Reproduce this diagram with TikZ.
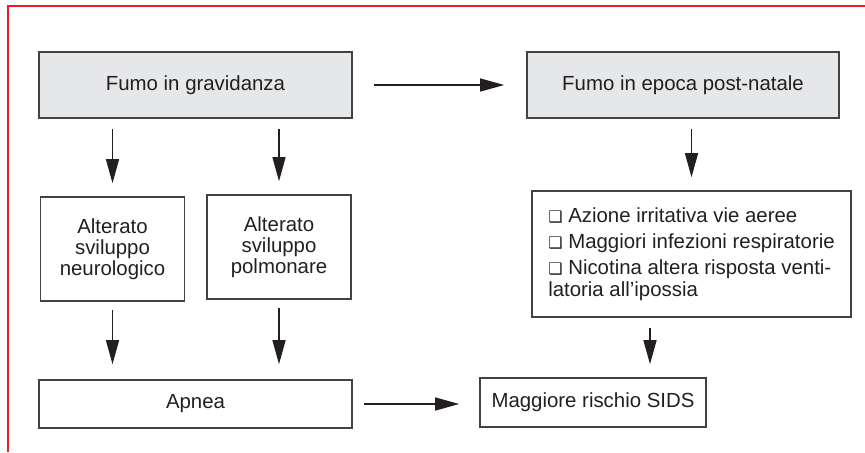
\documentclass[tikz,border=0pt]{standalone}
\usepackage{fontspec}
\setmainfont{Liberation Sans}
\newfontfamily\symfont{DejaVu Sans}
\usetikzlibrary{arrows.meta}
\definecolor{framered}{HTML}{ED1C24}
\definecolor{boxgray}{HTML}{E6E7E8}
\definecolor{ink}{HTML}{231F20}
\newcommand{\qbox}{{\symfont\fontsize{8}{8}\selectfont ❑}}
\begin{document}
\begin{tikzpicture}[x=0.5pt,y=-0.5pt,
  every node/.style={draw=ink!85,line width=0.8pt,text=ink,align=center,
    font=\fontsize{10.2}{10.6}\selectfont,inner sep=0pt},
  arr/.style={-{Triangle[length=12pt,width=6.5pt]},line width=0.6pt,draw=ink,
    shorten <=5pt,shorten >=6.5pt}]
\useasboundingbox (0,0) rectangle (865,452);
\draw[framered,line width=1pt] (8,452) -- (8,6) -- (865,6);
\node[fill=boxgray,minimum width=156.5pt,minimum height=33pt] (f0) at (195.5,85) {Fumo in gravidanza};
\node[fill=boxgray,minimum width=156pt,minimum height=33pt] (p0) at (683,85) {Fumo in epoca post-natale};
\node[minimum width=72pt,minimum height=52pt] (n0) at (112.5,249) {Alterato\\sviluppo\\neurologico};
\node[minimum width=72pt,minimum height=52pt] (m0) at (279,247) {Alterato\\sviluppo\\polmonare};
\node[minimum width=159.5pt,minimum height=63pt,align=left] (l0) at (691.5,254) {\qbox\ Azione irritativa vie aeree\\[2.5pt]
  \qbox\ Maggiori infezioni respiratorie\\[2.5pt]
  \qbox\ Nicotina altera risposta venti-\\latoria all’ipossia};
\node[minimum width=156.5pt,minimum height=24pt] (ap) at (195.5,404) {Apnea};
\node[minimum width=113pt,minimum height=24.5pt] (r0) at (593,402.5) {Maggiore rischio SIDS};
\draw[arr,shorten <=10.5pt,shorten >=11pt] (f0.east) -- (p0.west);
\draw[arr] (f0.south -| n0) -- (n0.north);
\draw[arr] (f0.south -| m0) -- (m0.north);
\draw[arr] (p0.south -| l0) -- (l0.north);
\draw[arr,shorten <=4pt,shorten >=7.5pt] (n0.south) -- (n0.south |- ap.north);
\draw[arr,shorten <=4pt,shorten >=7.5pt] (m0.south) -- (m0.south |- ap.north);
\draw[arr] ([xshift=-20.75pt]l0.south) -- ([xshift=-20.75pt]l0.south |- r0.north);
\draw[arr,shorten <=5.5pt,shorten >=10pt] (ap.east) -- (ap.east -| r0.west);
\end{tikzpicture}
\end{document}
